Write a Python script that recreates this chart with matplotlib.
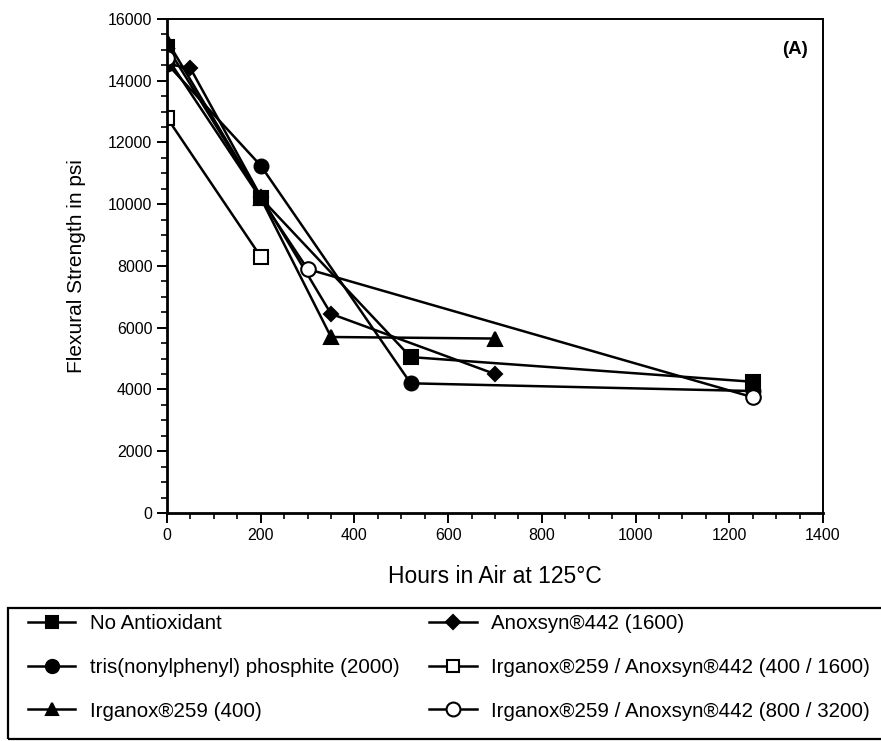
import matplotlib.pyplot as plt
from matplotlib.patches import Rectangle
from matplotlib.ticker import MultipleLocator

plt.rcParams['font.family'] = ['Liberation Sans', 'DejaVu Sans']

# data
none_x = [0, 200, 520, 1250]
none_y = [15100, 10200, 5050, 4250]

tnpp_x = [0, 200, 520, 1250]
tnpp_y = [14550, 11250, 4200, 3950]

irg_x = [0, 200, 350, 700]
irg_y = [15300, 10200, 5700, 5650]

anox_x = [0, 50, 200, 350, 700]
anox_y = [14550, 14400, 10250, 6450, 4500]

mix1_x = [0, 200]
mix1_y = [12800, 8300]

mix2_x = [0, 300, 1250]
mix2_y = [14750, 7900, 3750]

labels = [
    'No Antioxidant',
    'tris(nonylphenyl) phosphite (2000)',
    'Irganox®259 (400)',
    'Anoxsyn®442 (1600)',
    'Irganox®259 / Anoxsyn®442 (400 / 1600)',
    'Irganox®259 / Anoxsyn®442 (800 / 3200)',
]

fig = plt.figure(figsize=(8.81, 7.41), dpi=100)
ax = fig.add_axes([0.1896, 0.3077, 0.7446, 0.6667])

style = dict(color='black', linewidth=1.8, markeredgecolor='black', markeredgewidth=1.5)
h1, = ax.plot(none_x, none_y, marker='s', markersize=9.5, markerfacecolor='black', **style)
h2, = ax.plot(tnpp_x, tnpp_y, marker='o', markersize=10, markerfacecolor='black', **style)
h3, = ax.plot(irg_x, irg_y, marker='^', markersize=9.5, markerfacecolor='black', **style)
h4, = ax.plot(anox_x, anox_y, marker='D', markersize=7.5, markerfacecolor='black', **style)
h5, = ax.plot(mix1_x, mix1_y, marker='s', markersize=9.5, markerfacecolor='white', **style)
h6, = ax.plot(mix2_x, mix2_y, marker='o', markersize=10.5, markerfacecolor='white', **style)

ax.set_xlim(0, 1400)
ax.set_ylim(0, 16000)
ax.xaxis.set_major_locator(MultipleLocator(200))
ax.xaxis.set_minor_locator(MultipleLocator(50))
ax.yaxis.set_major_locator(MultipleLocator(2000))
ax.yaxis.set_minor_locator(MultipleLocator(500))
ax.tick_params(which='major', direction='out', length=7, width=1.4, labelsize=11.5)
ax.tick_params(which='minor', direction='out', length=4, width=1.2)

for side in ['left', 'bottom']:
    ax.spines[side].set_linewidth(2)
for side in ['top', 'right']:
    ax.spines[side].set_linewidth(1.4)

ax.set_xlabel('Hours in Air at 125°C', fontsize=16.5, labelpad=16)
ax.set_ylabel('Flexural Strength in psi', fontsize=15, labelpad=16)
ax.text(0.977, 0.955, '(A)', transform=ax.transAxes, ha='right', va='top',
        fontsize=13.5, fontweight='bold')

# legend box runs off the right edge in the reference
fig.add_artist(Rectangle((0.009, 0.003), 1.05, 0.177, transform=fig.transFigure,
                         fill=False, edgecolor='black', linewidth=1.6))

leg = fig.legend([h1, h2, h3, h4, h5, h6], labels, ncol=2,
                 loc='upper left', bbox_to_anchor=(0.032, 0.171),
                 frameon=False, fontsize=14.8, handlelength=2.3, handletextpad=0.7,
                 labelspacing=1.2, columnspacing=1.45, borderpad=0, borderaxespad=0,
                 markerscale=0.95)

fig.savefig('out.png', dpi=100)
